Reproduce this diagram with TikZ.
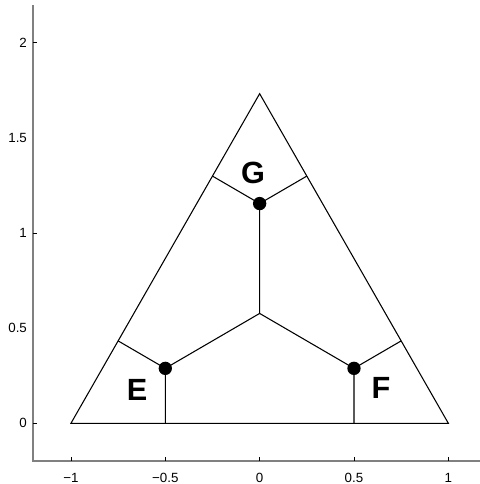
\documentclass[tikz,border=0pt]{standalone}
\usepackage{fontspec}
\setmainfont{Liberation Sans}
\begin{document}
\begin{tikzpicture}[x=141.5pt,y=142.7pt,
  axisline/.style={draw=black!50, line width=1.1pt},
  tickmark/.style={draw=black, line width=0.6pt},
  edge/.style={draw=black, line width=0.8pt},
  ticklbl/.style={font=\fontsize{10}{12}\selectfont, inner sep=0pt},
  region/.style={font=\fontsize{23}{26}\selectfont\bfseries, inner sep=0pt},
  dot/.style={circle, fill=black, inner sep=0pt, minimum size=10pt}]
\useasboundingbox (-1.376,-0.319) rectangle (1.1675,2.2244);
% axes
\coordinate (ytop) at (-1.2015,2.198);
\coordinate (orig) at (-1.2015,-0.198);
\coordinate (xend) at (1.1675,-0.198);
\draw[axisline] (ytop) -- (orig) -- (xend);
\foreach \v/\t in {0/0,0.5/0.5,1/1,1.5/1.5,2/2}{
  \coordinate (yt\t) at (-1.2015,\v);
  \draw[tickmark] (yt\t) -- ++(0.021,0);
  \node[ticklbl, anchor=east] (yl\t) at (-1.232,\v) {\t};
}
\foreach \v/\t/\n in {-1/{−1}/a,-0.5/{−0.5}/b,0/0/c,0.5/0.5/d,1/1/e}{
  \coordinate (xt\n) at (\v,-0.198);
  \draw[tickmark] (xt\n) -- ++(0,0.021);
  \node[ticklbl, anchor=center] (xl\n) at (\v,-0.285) {\t};
}
% triangle
\coordinate (A) at (-1,0);
\coordinate (B) at (1,0);
\coordinate (C) at (0,1.7320508);
\draw[edge] (A) -- (B) -- (C) -- cycle;
% centroid and points
\coordinate (O) at (0,0.5773503);
\coordinate (Ec) at (-0.5,0.2886751);
\coordinate (Fc) at (0.5,0.2886751);
\coordinate (Gc) at (0,1.1547005);
\coordinate (Eb) at (-0.5,0);
\coordinate (El) at (-0.75,0.4330127);
\coordinate (Fb) at (0.5,0);
\coordinate (Fr) at (0.75,0.4330127);
\coordinate (Gl) at (-0.25,1.2990381);
\coordinate (Gr) at (0.25,1.2990381);
\draw[edge] (O) -- (Ec) (O) -- (Fc) (O) -- (Gc);
\draw[edge] (El) -- (Ec) -- (Eb);
\draw[edge] (Fr) -- (Fc) -- (Fb);
\draw[edge] (Gl) -- (Gc) -- (Gr);
\node[dot] (Ed) at (Ec) {};
\node[dot] (Fd) at (Fc) {};
\node[dot] (Gd) at (Gc) {};
\node[region] (E) at (-0.65,0.175) {E};
\node[region] (F) at (0.643,0.186) {F};
\node[region] (G) at (-0.035,1.316) {G};
\end{tikzpicture}
\end{document}
